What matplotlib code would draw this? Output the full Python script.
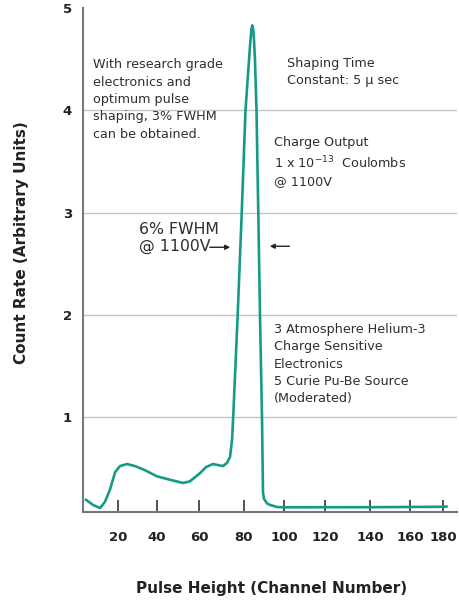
import numpy as np
import matplotlib
matplotlib.use('Agg')
import matplotlib.pyplot as plt

plt.rcParams['font.family'] = ['DejaVu Sans']
plt.rcParams['mathtext.fontset'] = 'dejavusans'

# pulse height spectrum
channel = [3.6, 7.2, 10.8, 13.3, 15.9, 18.5, 21.0, 24.6, 28.7, 33.8, 40.0, 46.4,
           52.4, 55.6, 60.4, 63.1, 66.2, 68.4, 70.7, 72.4, 73.8, 74.7, 75.2, 77.2,
           79.0, 80.75, 82.5, 83.25, 83.7, 84.15, 84.6, 85.0, 85.5, 86.25, 87.15,
           88.0, 89.0, 89.5, 90.0, 91.0, 91.5, 93.0, 96.5, 100.0, 140.0, 180.0, 182.1]
count = [0.19, 0.14, 0.11, 0.17, 0.29, 0.46, 0.52, 0.54, 0.52, 0.48, 0.42, 0.385,
         0.355, 0.37, 0.45, 0.51, 0.54, 0.53, 0.52, 0.55, 0.61, 0.78, 1.0, 2.0,
         3.0, 4.0, 4.49, 4.69, 4.79, 4.83, 4.79, 4.69, 4.49, 4.0, 3.0,
         2.0, 1.0, 0.26, 0.2, 0.17, 0.155, 0.14, 0.12, 0.117, 0.118, 0.122, 0.124]

x_ticks = [20, 40, 60, 80, 100, 120, 140, 160, 180]
y_ticks = [1, 2, 3, 4, 5]

# the printed channel axis is not evenly spaced, so map it piecewise
scale_ch = [0, 20, 40, 60, 80, 100, 120, 140, 160, 180, 200]
scale_pos = [79, 118, 157, 199, 244, 284, 325, 370, 410, 443, 476]


def fwd(x):
    return np.interp(x, scale_ch, scale_pos)


def inv(p):
    return np.interp(p, scale_pos, scale_ch)


teal = '#169a88'
txt = '#2e2e2e'

fig = plt.figure(figsize=(4.59, 6.03), dpi=100)
ax = fig.add_axes([83 / 459, 1 - 512 / 603, 374 / 459, 504 / 603])
ax.set_xscale('function', functions=(fwd, inv))

for v in y_ticks[:-1]:
    ax.axhline(v, color='#c4c4c4', lw=1.0, zorder=1)

ax.plot(channel, count, color=teal, lw=1.9, solid_joinstyle='round', zorder=3)

ax.set_xlim(2.05, 188.5)
ax.set_ylim(0.071, 5.0)
ax.set_xticks(x_ticks)
ax.set_xticklabels([str(t) for t in x_ticks])
ax.set_yticks(y_ticks)
ax.set_yticklabels([str(t) for t in y_ticks])
ax.tick_params(axis='x', direction='in', length=8.6, width=1.2, color='#333333',
               pad=14, labelsize=9.5, labelcolor='#222222')
ax.tick_params(axis='y', length=0, pad=8, labelsize=9.5, labelcolor='#222222')
for lab in ax.get_xticklabels() + ax.get_yticklabels():
    lab.set_fontweight('bold')

for s in ['top', 'right']:
    ax.spines[s].set_visible(False)
for s in ['left', 'bottom']:
    ax.spines[s].set_color('#777777')
    ax.spines[s].set_linewidth(1.5)

fig.text(22 / 459, 1 - 243 / 603, 'Count Rate (Arbitrary Units)', rotation=90,
         ha='center', va='center', fontsize=11, fontweight='bold', color='#222222')
fig.text(272 / 459, 1 - 588 / 603, 'Pulse Height (Channel Number)',
         ha='center', va='center', fontsize=11, fontweight='bold', color='#222222')

fig.text(92.7 / 459, 1 - 99.5 / 603,
         'With research grade\nelectronics and\noptimum pulse\nshaping, 3% FWHM\ncan be obtained.',
         ha='left', va='center', fontsize=9.2, color=txt, linespacing=1.43)
fig.text(287 / 459, 1 - 72 / 603, 'Shaping Time\nConstant: 5 \u03bc sec',
         ha='left', va='center', fontsize=9.2, color=txt, linespacing=1.43)
fig.text(274 / 459, 1 - 162 / 603,
         'Charge Output\n1 x 10$^{-13}$  Coulombs\n@ 1100V',
         ha='left', va='center', fontsize=9.2, color=txt, linespacing=1.4)
fig.text(139 / 459, 1 - 238 / 603, '6% FWHM\n@ 1100V',
         ha='left', va='center', fontsize=11.3, color=txt, linespacing=1.15)
fig.text(274 / 459, 1 - 364 / 603,
         '3 Atmosphere Helium-3\nCharge Sensitive\nElectronics\n5 Curie Pu-Be Source\n(Moderated)',
         ha='left', va='center', fontsize=9.2, color=txt, linespacing=1.43)

arrow = dict(arrowstyle='-|>', color='#222222', lw=1.0, mutation_scale=7)
ax.annotate('', xy=(75.1, 2.66), xytext=(63.6, 2.66), arrowprops=arrow)
ax.annotate('', xy=(91.5, 2.67), xytext=(104.0, 2.67), arrowprops=arrow)

fig.savefig('out.png', dpi=100)
